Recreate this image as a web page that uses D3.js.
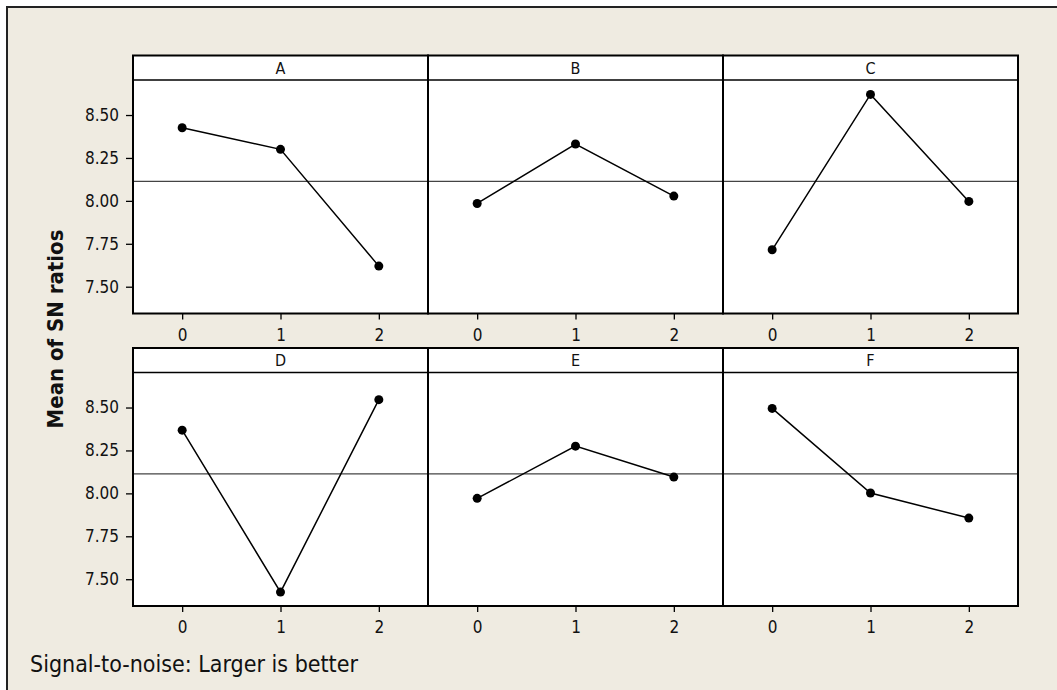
<!DOCTYPE html>
<html lang="en">
<head>
    <meta charset="utf-8">
    <title>Main Effects Plot for SN ratios</title>
    <script src="https://d3js.org/d3.v7.min.js"></script>
    <style>
        body { margin: 0; background: #ffffff; }
        svg text { font-family: "DejaVu Sans", Tahoma, sans-serif; font-stretch: condensed; fill: #111; }
    </style>
</head>
<body>
    <svg id="chart" width="1057" height="690"></svg>
    <script>
        // factor names and levels
        const factors = ['A', 'B', 'C', 'D', 'E', 'F'];
        const levels = [0, 1, 2];

        // mean SN ratio per level, one array per factor
        const meansA = [8.426, 8.300, 7.620];
        const meansB = [7.985, 8.331, 8.028];
        const meansC = [7.715, 8.620, 7.997];
        const meansD = [8.368, 7.425, 8.546];
        const meansE = [7.971, 8.275, 8.095];
        const meansF = [8.495, 8.002, 7.856];
        const overallMean = 8.113;

        const yTicks = [7.50, 7.75, 8.00, 8.25, 8.50];
        const yTitle = 'Mean of SN ratios';
        const footer = 'Signal-to-noise: Larger is better';

        const allMeans = [meansA, meansB, meansC, meansD, meansE, meansF];

        const svg = d3.select('#chart');

        // outer beige frame (runs off the right and bottom edges)
        svg.append('rect')
            .attr('x', 7).attr('y', 7)
            .attr('width', 1070).attr('height', 700)
            .attr('fill', '#efebe1')
            .attr('stroke', '#222').attr('stroke-width', 2);

        const left = 133;
        const panelW = 295;
        const rowTop = [55.5, 348];
        const headerH = 24.5;
        const plotH = 233.5;

        for (let i = 0; i < factors.length; i++) {
            let col = i % 3;
            let row = Math.floor(i / 3);
            let x0 = left + col * panelW;
            let top = rowTop[row];
            let plotTop = top + headerH;
            let plotBottom = plotTop + plotH;

            let scaleX = d3.scaleLinear().domain([-0.5, 2.5]).range([x0, x0 + panelW]);
            let scaleY = d3.scaleLinear().domain([7.344, 8.704]).range([plotBottom, plotTop]);

            let g = svg.append('g');

            // header strip
            g.append('rect')
                .attr('x', x0).attr('y', top)
                .attr('width', panelW).attr('height', headerH)
                .attr('fill', '#fff');
            g.append('text')
                .attr('x', x0 + panelW / 2).attr('y', top + headerH / 2 + 6)
                .attr('text-anchor', 'middle')
                .attr('font-size', 16)
                .text(factors[i]);

            // plot area
            g.append('rect')
                .attr('x', x0).attr('y', plotTop)
                .attr('width', panelW).attr('height', plotH)
                .attr('fill', '#fff');

            // reference line at the overall mean
            g.append('line')
                .attr('x1', x0).attr('x2', x0 + panelW)
                .attr('y1', scaleY(overallMean)).attr('y2', scaleY(overallMean))
                .attr('stroke', '#444').attr('stroke-width', 1.3);

            let data = levels.map((lv, k) => ({ level: lv, value: allMeans[i][k] }));

            let line = d3.line()
                .x(d => scaleX(d.level))
                .y(d => scaleY(d.value));

            g.append('path')
                .datum(data)
                .attr('fill', 'none')
                .attr('stroke', '#000')
                .attr('stroke-width', 1.5)
                .attr('d', line);

            g.selectAll('circle')
                .data(data)
                .enter()
                .append('circle')
                .attr('cx', d => scaleX(d.level))
                .attr('cy', d => scaleY(d.value))
                .attr('r', 4.5)
                .attr('fill', '#000');

            // borders
            g.append('rect')
                .attr('x', x0).attr('y', top)
                .attr('width', panelW).attr('height', headerH + plotH)
                .attr('fill', 'none')
                .attr('stroke', '#000').attr('stroke-width', 2);
            g.append('line')
                .attr('x1', x0).attr('x2', x0 + panelW)
                .attr('y1', plotTop).attr('y2', plotTop)
                .attr('stroke', '#000').attr('stroke-width', 1.6);

            // x axis
            let xAxis = g.append('g')
                .attr('transform', `translate(0,${plotBottom})`)
                .call(d3.axisBottom(scaleX).tickValues(levels).tickSize(6).tickPadding(9).tickFormat(d3.format('d')));
            xAxis.select('.domain').remove();
            xAxis.selectAll('text').attr('font-size', 17).attr('fill', '#111');
            xAxis.selectAll('line').attr('stroke', '#000').attr('stroke-width', 1.3);

            // y axis on the left column only
            if (col === 0) {
                let yAxis = g.append('g')
                    .attr('transform', `translate(${x0},0)`)
                    .call(d3.axisLeft(scaleY).tickValues(yTicks).tickSize(7).tickPadding(7).tickFormat(d3.format('.2f')));
                yAxis.select('.domain').remove();
                yAxis.selectAll('text').attr('font-size', 17).attr('fill', '#111');
                yAxis.selectAll('line').attr('stroke', '#000').attr('stroke-width', 1.3);
            }
        }

        // y axis title
        svg.append('text')
            .attr('transform', 'translate(63,329) rotate(-90)')
            .attr('text-anchor', 'middle')
            .attr('font-size', 22)
            .attr('font-weight', 'bold')
            .text(yTitle);

        // footer note
        svg.append('text')
            .attr('x', 30).attr('y', 672)
            .attr('font-size', 23)
            .text(footer);
    </script>
</body>
</html>
